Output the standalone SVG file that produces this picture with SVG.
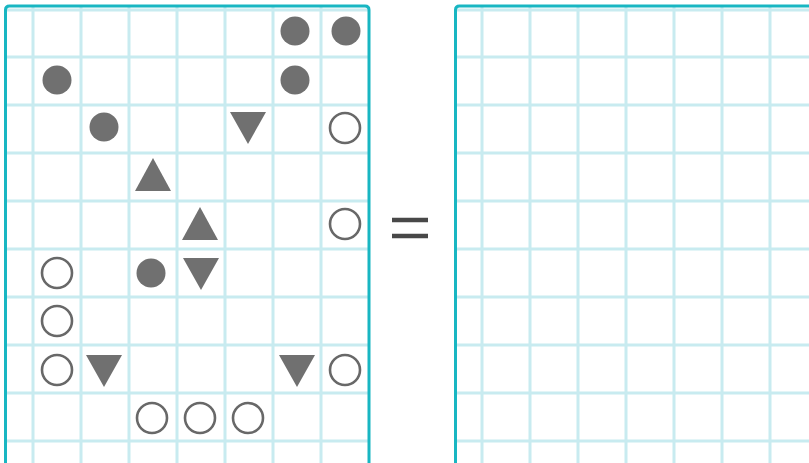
<svg xmlns="http://www.w3.org/2000/svg" xmlns:xlink="http://www.w3.org/1999/xlink" width="809" height="463" viewBox="0 0 809 463">
<style>
.grid{stroke:#c8ebf0;stroke-width:3;fill:none}
.frame{stroke:#18b6c2;stroke-width:3;fill:none}
.fc{fill:#707070}
.oc{fill:#fff;stroke:#686868;stroke-width:2.6}
.tri{fill:#707070}
.eq{stroke:#484848;stroke-width:4.5;stroke-linecap:butt}
</style>
<defs>
<circle id="filled" r="14.5" class="fc"/>
<circle id="open" r="15" class="oc"/>
<path id="down" d="M-18,-15 L18,-15 L0,17 Z" class="tri"/>
<path id="up" d="M0,-17 L18,16 L-18,16 Z" class="tri"/>
</defs>
<rect width="809" height="463" fill="#fff"/>
<g id="left-panel">
<g class="grid">
<path d="M33,6V463M81,6V463M129,6V463M177,6V463M225,6V463M273,6V463M321,6V463"/>
<path d="M5,10H368M5,57H368M5,105H368M5,153H368M5,201H368M5,249H368M5,297H368M5,345H368M5,393H368M5,441H368"/>
</g>
<path class="frame" d="M5.5,470V10Q5.5,6 9.5,6H365Q369,6 369,10V470"/>
</g>
<g id="right-panel">
<g class="grid">
<path d="M482,6V463M530,6V463M578,6V463M626,6V463M674,6V463M722,6V463M770,6V463"/>
<path d="M455,10H809M455,57H809M455,105H809M455,153H809M455,201H809M455,249H809M455,297H809M455,345H809M455,393H809M455,441H809"/>
</g>
<path class="frame" d="M455.5,470V10Q455.5,6 459.5,6H815"/>
</g>
<g id="symbols">
<use xlink:href="#filled" x="295" y="31"/>
<use xlink:href="#filled" x="346" y="31"/>
<use xlink:href="#filled" x="57" y="80"/>
<use xlink:href="#filled" x="295" y="80"/>
<use xlink:href="#filled" x="104" y="127"/>
<use xlink:href="#down" x="248" y="127"/>
<use xlink:href="#open" x="345" y="128"/>
<use xlink:href="#up" x="153" y="175"/>
<use xlink:href="#up" x="200" y="224"/>
<use xlink:href="#open" x="345" y="224"/>
<use xlink:href="#open" x="57" y="273"/>
<use xlink:href="#filled" x="151" y="273"/>
<use xlink:href="#down" x="201" y="273"/>
<use xlink:href="#open" x="57" y="321"/>
<use xlink:href="#open" x="57" y="370"/>
<use xlink:href="#down" x="104" y="370"/>
<use xlink:href="#down" x="297" y="370"/>
<use xlink:href="#open" x="345" y="370"/>
<use xlink:href="#open" x="152" y="418"/>
<use xlink:href="#open" x="200" y="418"/>
<use xlink:href="#open" x="248" y="418"/>
</g>
<g id="equals">
<path class="eq" d="M392,220H428M392,236H428"/>
</g>
</svg>
